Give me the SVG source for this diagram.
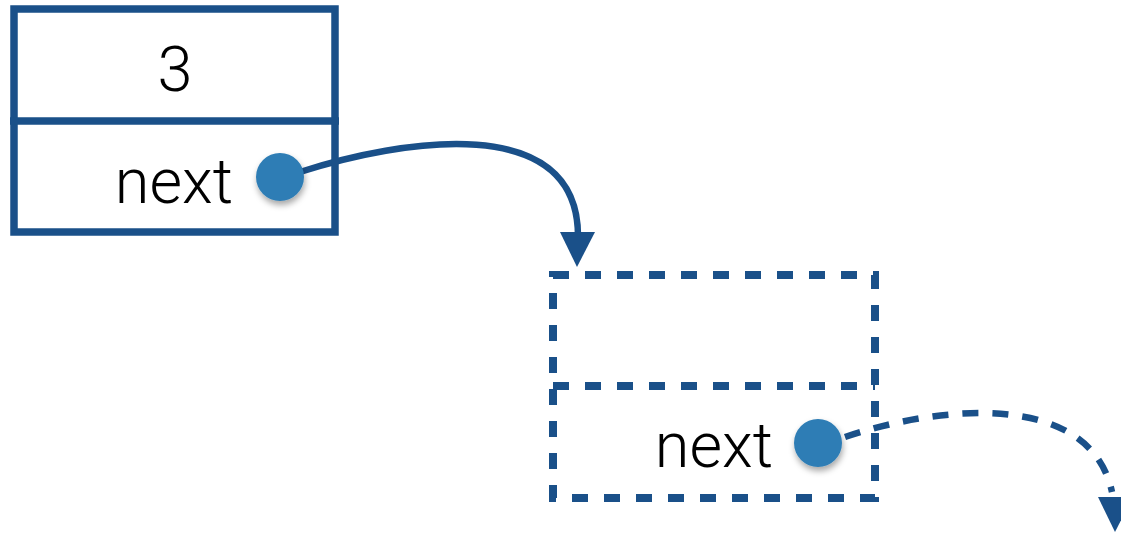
<svg xmlns="http://www.w3.org/2000/svg" width="1121" height="533" viewBox="0 0 1121 533">
  <style>
    .box { fill: none; stroke: #1a5089; stroke-width: 7.5; }
    .dash { fill: none; stroke: #1a5089; stroke-width: 8; stroke-dasharray: 16 16; }
    .lbl { font-family: "Roboto", "Liberation Sans", sans-serif; font-weight: 300; fill: #000; }
    .dot { fill: #2e7db5; filter: url(#sh); }
    .conn { fill: none; stroke: #1a5089; stroke-width: 6.5; }
    .head { fill: #1a5089; }
  </style>
  <defs>
    <filter id="sh" x="-50%" y="-50%" width="200%" height="200%">
      <feDropShadow dx="1" dy="4" stdDeviation="3" flood-color="#000" flood-opacity="0.35"/>
    </filter>
  </defs>
  <g id="connectors">
    <path class="conn" d="M 300 172 C 400 140 578 110 578 236"/>
    <polygon class="head" points="560,232 595,232 577,267"/>
    <path class="conn" d="M 845 437 C 940 405 1090 390 1112 492" stroke-dasharray="16 14" stroke-width="8"/>
    <polygon class="head" points="1098,497 1133,497 1115,532"/>
  </g>
  <g id="node1">
    <rect class="box" x="14" y="9" width="321" height="223"/>
    <line class="box" x1="10" y1="121" x2="339" y2="121"/>
    <text class="lbl" x="175" y="91" font-size="63" text-anchor="middle">3</text>
    <text class="lbl" x="233" y="203" font-size="63" text-anchor="end">next</text>
    <circle class="dot" cx="280" cy="177" r="24"/>
  </g>
  <g id="node2">
    <rect class="dash" x="553" y="275" width="322" height="223"/>
    <line class="dash" x1="553" y1="386" x2="875" y2="386"/>
    <text class="lbl" x="773" y="467" font-size="63" text-anchor="end">next</text>
    <circle class="dot" cx="818" cy="443" r="24"/>
  </g>
</svg>
